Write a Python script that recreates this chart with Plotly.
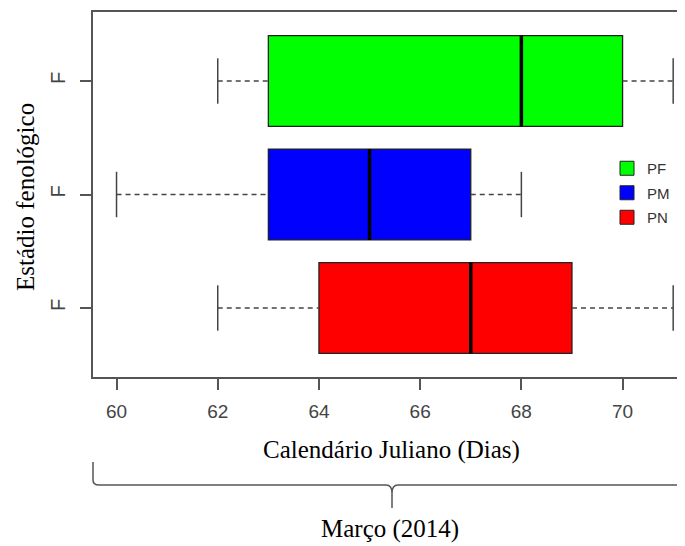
import plotly.graph_objects as go

# ---- data ----
groups = ["PN", "PM", "PF"]
positions = [1, 2, 3]
colors = ["#FF0000", "#0000FF", "#00FF00"]
lower_whisker = [62, 60, 62]
q1_vals = [64, 63, 63]
median_vals = [67, 65, 68]
q3_vals = [69, 67, 70]
upper_whisker = [71, 68, 71]
y_tick_labels = ["F", "F", "F"]
x_ticks = [60, 62, 64, 66, 68, 70]

OFF = 8  # page body margin
W, H = 685 - OFF, 546 - OFF
L, T = 93 - OFF, 12 - OFF
PB = 377 - OFF  # plot bottom (pixel)
B, R = H - PB, 0
PW, PH = W - L - R, PB - T

def px(xp):
    return (xp - OFF - L) / PW

def py(yp):
    return (PB - (yp - OFF)) / PH

fig = go.Figure()
box_w = 0.8
cap = 0.2
for g, pos, c, lw, q1, md, q3, uw in zip(groups, positions, colors, lower_whisker,
                                         q1_vals, median_vals, q3_vals, upper_whisker):
    # dashed whiskers
    fig.add_trace(go.Scatter(x=[lw, q1, None, q3, uw], y=[pos, pos, None, pos, pos],
                             mode="lines", line=dict(color="#444444", width=1.5, dash="5px,4px"),
                             showlegend=False, hoverinfo="skip"))
    # caps
    fig.add_trace(go.Scatter(x=[lw, lw, None, uw, uw],
                             y=[pos - cap, pos + cap, None, pos - cap, pos + cap],
                             mode="lines", line=dict(color="#444444", width=1.5),
                             showlegend=False, hoverinfo="skip"))
    # box
    fig.add_trace(go.Box(y=[pos], q1=[q1], median=[md], q3=[q3], lowerfence=[q1],
                         upperfence=[q3], orientation="h", width=box_w, fillcolor=c,
                         line=dict(color="#222222", width=1.3), whiskerwidth=0,
                         showlegend=False, boxpoints=False, name=g))
    # thick median
    fig.add_trace(go.Scatter(x=[md, md], y=[pos - box_w / 2, pos + box_w / 2], mode="lines",
                             line=dict(color="black", width=3.5),
                             showlegend=False, hoverinfo="skip"))

# legend entries (PF, PM, PN)
for g, c in zip(groups[::-1], colors[::-1]):
    fig.add_trace(go.Scatter(x=[None], y=[None], mode="markers", name=g, legendgroup=g,
                             marker=dict(symbol="square", size=14, color=c,
                                         line=dict(color="#222222", width=1))))

axis_col = "#555555"
fig.update_xaxes(range=[59.535, 71.2335], tickvals=x_ticks, ticks="outside", ticklen=11,
                 tickcolor=axis_col, tickwidth=1.5, showline=True, linecolor=axis_col,
                 linewidth=1.8, mirror=True, showgrid=False, zeroline=False,
                 tickfont=dict(family="Liberation Sans", size=19, color="#444444"),
                 ticklabelstandoff=5)
fig.update_yaxes(range=[0.392, 3.608], tickvals=positions, ticktext=y_tick_labels,
                 tickangle=-90, ticks="outside", ticklen=11, tickcolor=axis_col, tickwidth=1.5,
                 showline=True, linecolor=axis_col, linewidth=1.8, mirror=False,
                 showgrid=False, zeroline=False,
                 tickfont=dict(family="Liberation Sans", size=20, color="#444444"),
                 ticklabelstandoff=7)

serif = dict(family="Liberation Serif", size=25, color="black")
annotations = [
    dict(text="Calendário Juliano (Dias)", x=px(391), y=py(450), xref="paper", yref="paper",
         showarrow=False, font=serif, xanchor="center", yanchor="middle"),
    dict(text="Estádio fenológico", x=px(25), y=py(197), xref="paper", yref="paper",
         showarrow=False, font=serif, textangle=-90, xanchor="center", yanchor="middle"),
    dict(text="Março (2014)", x=px(390), y=py(529), xref="paper", yref="paper",
         showarrow=False, font=serif, xanchor="center", yanchor="middle"),
]

# brace below the axis
bx0, bxm, ytop, yline, ytip = 93, 392, 462, 485, 508
path = (f"M {px(bx0)},{py(ytop)} L {px(bx0)},{py(yline-5)} "
        f"Q {px(bx0)},{py(yline)} {px(bx0+6)},{py(yline)} "
        f"L {px(bxm-6)},{py(yline)} Q {px(bxm)},{py(yline)} {px(bxm)},{py(yline+8)} "
        f"L {px(bxm)},{py(ytip)} "
        f"M {px(bxm)},{py(yline+8)} Q {px(bxm)},{py(yline)} {px(bxm+6)},{py(yline)} "
        f"L {px(685)},{py(yline)}")
shapes = [dict(type="path", path=path, xref="paper", yref="paper",
               line=dict(color="#555555", width=1.5))]

fig.update_layout(
    width=W, height=H, margin=dict(l=L, r=R, t=T, b=B),
    paper_bgcolor="white", plot_bgcolor="white",
    annotations=annotations, shapes=shapes,
    showlegend=True,
    legend=dict(x=px(607), y=py(152), xanchor="left", yanchor="top",
                font=dict(family="Liberation Sans", size=15, color="#333333"),
                bgcolor="rgba(0,0,0,0)", tracegroupgap=2, itemwidth=30),
)

fig.write_html("out.html")
